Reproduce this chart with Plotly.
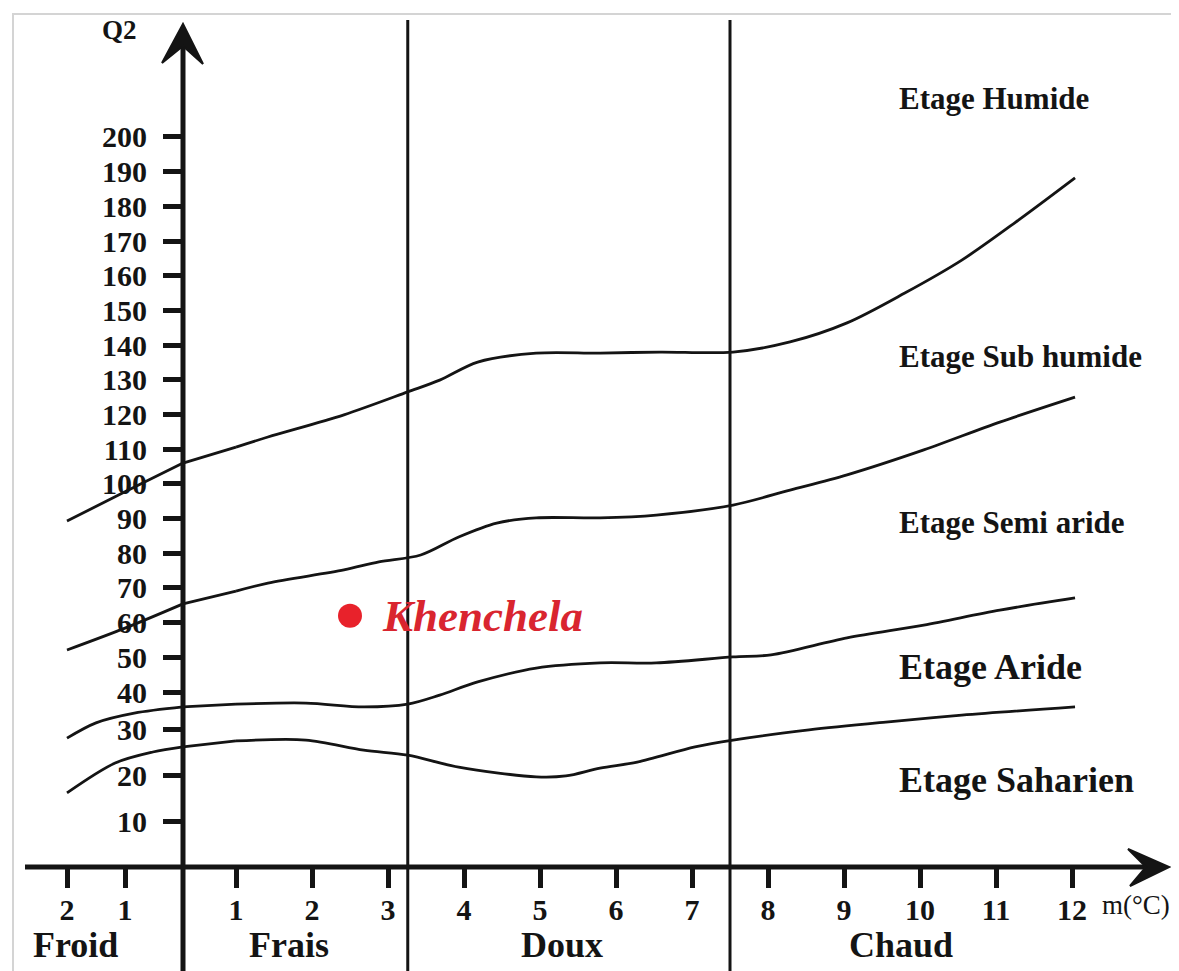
import plotly.graph_objects as go

# ---------------- data ----------------
# Limits between bioclimatic stages: m (°C) vs Q2
m_humide = [-2.0, -1.0, 0.0, 1.0, 1.42, 2.42, 3.26, 3.68, 4.18, 4.95, 5.79, 6.58, 7.54, 8.29, 9.04, 9.80, 10.55, 11.30, 12.04]
q_humide = [89.3, 97.7, 106.0, 110.6, 113.5, 119.9, 126.5, 129.9, 135.1, 137.7, 137.7, 138.0, 138.0, 140.9, 146.4, 155.0, 164.5, 176.1, 188.2]

m_subhum = [-2.0, -1.0, 0.0, 1.0, 1.42, 2.42, 2.88, 3.43, 3.93, 4.43, 4.95, 5.79, 6.53, 7.54, 8.29, 9.04, 10.05, 11.05, 12.04]
q_subhum = [52.1, 58.4, 65.4, 69.1, 71.4, 75.2, 77.5, 79.5, 84.7, 88.7, 90.2, 90.2, 91.0, 93.9, 98.2, 102.6, 109.8, 117.8, 125.0]

m_semiar = [-2.0, -1.5, -0.84, 0.0, 1.0, 1.92, 2.68, 3.26, 3.68, 4.18, 4.95, 5.79, 6.53, 7.54, 8.04, 9.04, 10.05, 11.05, 12.04]
q_semiar = [26.7, 31.1, 33.9, 35.7, 36.5, 36.8, 35.7, 36.5, 39.1, 42.9, 46.9, 48.4, 48.4, 50.1, 50.7, 55.6, 59.3, 63.6, 67.1]

m_aride = [-2.0, -1.17, -0.52, 0.0, 1.0, 1.92, 2.68, 3.26, 3.93, 4.95, 5.34, 5.79, 6.28, 7.04, 7.54, 8.54, 9.55, 10.55, 12.04]
q_aride = [16.1, 22.6, 25.0, 26.1, 27.4, 27.6, 25.4, 24.3, 21.7, 19.6, 19.8, 21.5, 22.8, 26.1, 27.6, 29.8, 31.5, 33.0, 34.8]

# Thermal zone boundaries (m, °C)
zone_bounds = [3.26, 7.5]
zone_names = ["Froid", "Frais", "Doux", "Chaud"]
zone_label_m = [-1.86, 1.70, 5.29, 9.75]

stage_names = ["Etage Humide", "Etage Sub humide", "Etage Semi aride", "Etage Aride", "Etage Saharien"]
stage_q = [211.0, 136.6, 89.0, 47.2, 14.6]

# Station
station_name = "Khenchela"
station_m = [2.5]
station_q = [62.0]

# Tick labels
xneg_vals = [-2, -1]
xneg_text = ["2", "1"]
xpos_vals = list(range(1, 13))
ylow_vals = [10, 20, 30]
yup_vals = list(range(40, 201, 10))

# ---------------- layout geometry (pixels of the hand-drawn axes) ----------------
OFF = 8                      # page body margin
W, H = 1179 - OFF, 971 - OFF
X0 = 183 - OFF               # pixel of m = 0 (Q2 axis)
X1 = 236 - OFF               # pixel of m = 1
SX_NEG, SX_01, SX_POS = 58.0, 53.0, 76.0
Y0 = 867 - OFF               # pixel of Q2 = 0 (m axis)
SY_LOW = 4.6
Y40 = 692 - OFF
SY_UP = 3.469

def px(x):
    return (x - OFF) / W

def py(y):
    return 1 - (y - OFF) / H

rng_x = [-X0 / SX_NEG, (W - X0) / SX_NEG]
rng_x2 = [-X0 / SX_01, (W - X0) / SX_01]
rng_x3 = [1 - X1 / SX_POS, 1 + (W - X1) / SX_POS]
rng_y = [-(H - Y0) / SY_LOW, Y0 / SY_LOW]
rng_y2 = [40 - (H - Y40) / SY_UP, 40 + Y40 / SY_UP]

INK = "#141414"
FONT = "Liberation Serif"

fig = go.Figure()

def add_curve(ms, qs, yax):
    segs = [
        ("x", [(m, q) for m, q in zip(ms, qs) if m <= 0]),
        ("x2", [(m, q) for m, q in zip(ms, qs) if 0 <= m <= 1]),
        ("x3", [(m, q) for m, q in zip(ms, qs) if m >= 1]),
    ]
    for xa, pts in segs:
        if len(pts) < 2:
            continue
        fig.add_trace(go.Scatter(
            x=[p[0] for p in pts], y=[p[1] for p in pts],
            xaxis=xa, yaxis=yax, mode="lines",
            line=dict(color=INK, width=2.8, shape="spline", smoothing=0.9),
            hoverinfo="skip", showlegend=False))

add_curve(m_humide, q_humide, "y2")
add_curve(m_subhum, q_subhum, "y2")
add_curve(m_semiar, q_semiar, "y2")
add_curve(m_aride, q_aride, "y")

fig.add_trace(go.Scatter(
    x=station_m, y=station_q, xaxis="x3", yaxis="y2", mode="markers",
    marker=dict(color="#e8222b", size=24, line=dict(width=0)),
    showlegend=False, hoverinfo="skip"))

tickfont = dict(family=FONT, size=30, color=INK, weight="bold")

def xaxis(rng, vals=None, text=None, overlay=None):
    d = dict(domain=[0, 1], range=rng, anchor="free", position=py(867),
             showline=False, showgrid=False, zeroline=False, automargin=False,
             fixedrange=True, tickfont=tickfont, ticklabelstandoff=-4)
    if vals:
        d.update(tickmode="array", tickvals=vals, ticktext=text if text else [str(v) for v in vals],
                 ticks="outside", ticklen=20, tickwidth=5, tickcolor=INK)
    else:
        d.update(showticklabels=False, ticks="")
    if overlay:
        d["overlaying"] = overlay
    return d

def yaxis(rng, vals, overlay=None):
    d = dict(domain=[0, 1], range=rng, anchor="free", position=px(183),
             showline=False, showgrid=False, zeroline=False, automargin=False,
             fixedrange=True, tickmode="array", tickvals=vals,
             ticks="outside", ticklen=20, tickwidth=5, tickcolor=INK,
             tickfont=tickfont, ticklabelstandoff=10)
    if overlay:
        d["overlaying"] = overlay
    return d

shapes = []
# m axis line and arrow
shapes.append(dict(type="line", xref="paper", yref="y", x0=px(25), x1=px(1152), y0=0, y1=0,
                   line=dict(color=INK, width=5)))
shapes.append(dict(type="path", xref="paper", yref="paper",
                   path=f"M {px(1128)},{py(849)} L {px(1169)},{py(867)} L {px(1130)},{py(886)} L {px(1146)},{py(867)} Z",
                   fillcolor=INK, line=dict(color=INK, width=2)))
# Q2 axis line and arrow
shapes.append(dict(type="line", xref="x", yref="paper", x0=0, x1=0, y0=0, y1=py(35),
                   line=dict(color=INK, width=5)))
shapes.append(dict(type="path", xref="paper", yref="paper",
                   path=f"M {px(162)},{py(63)} L {px(183)},{py(24)} L {px(203)},{py(64)} L {px(183)},{py(46)} Z",
                   fillcolor=INK, line=dict(color=INK, width=2)))
# zone boundaries
for b in zone_bounds:
    shapes.append(dict(type="line", xref="x3", yref="paper", x0=b, x1=b, y0=0, y1=py(20),
                       line=dict(color=INK, width=3)))
# light frame of the scanned page
shapes.append(dict(type="path", xref="paper", yref="paper",
                   path=f"M {px(13)},0 L {px(13)},{py(14)} L {px(1177)},{py(14)} L {px(1177)},0",
                   line=dict(color="#d4d4d4", width=2)))

annotations = []
for name, q in zip(stage_names, stage_q):
    big = name in ("Etage Aride", "Etage Saharien")
    annotations.append(dict(text=name, xref="x3", yref="y2", x=9.70, y=q, xanchor="left",
                            yanchor="middle", showarrow=False,
                            font=dict(family=FONT, size=36 if big else 31, color=INK, weight="bold")))
for i, (name, m) in enumerate(zip(zone_names, zone_label_m)):
    annotations.append(dict(text=name, xref="x" if i == 0 else "x3", yref="paper", x=m, y=py(945),
                            xanchor="center", yanchor="middle", showarrow=False,
                            font=dict(family=FONT, size=36, color=INK, weight="bold")))
annotations.append(dict(text="m(°C)", xref="paper", yref="paper", x=px(1136), y=py(905),
                        xanchor="center", yanchor="middle", showarrow=False,
                        font=dict(family=FONT, size=27, color=INK)))
annotations.append(dict(text="Q2", xref="paper", yref="paper", x=px(119), y=py(30),
                        xanchor="center", yanchor="middle", showarrow=False,
                        font=dict(family=FONT, size=27, color=INK, weight="bold")))
annotations.append(dict(text=station_name, xref="x3", yref="y2", x=station_m[0], y=station_q[0],
                        xanchor="left", yanchor="middle", xshift=30, showarrow=False,
                        font=dict(family=FONT, size=45, color="#d9252f", weight="bold", style="italic")))

fig.update_layout(
    width=W, height=H,
    margin=dict(l=0, r=0, t=0, b=0, pad=0),
    paper_bgcolor="white", plot_bgcolor="rgba(0,0,0,0)",
    showlegend=False,
    xaxis=xaxis(rng_x, xneg_vals, xneg_text),
    xaxis2=xaxis(rng_x2, None, None, "x"),
    xaxis3=xaxis(rng_x3, xpos_vals, None, "x"),
    yaxis=yaxis(rng_y, ylow_vals),
    yaxis2=yaxis(rng_y2, yup_vals, "y"),
    shapes=shapes,
    annotations=annotations,
)

fig.write_html("out.html")
